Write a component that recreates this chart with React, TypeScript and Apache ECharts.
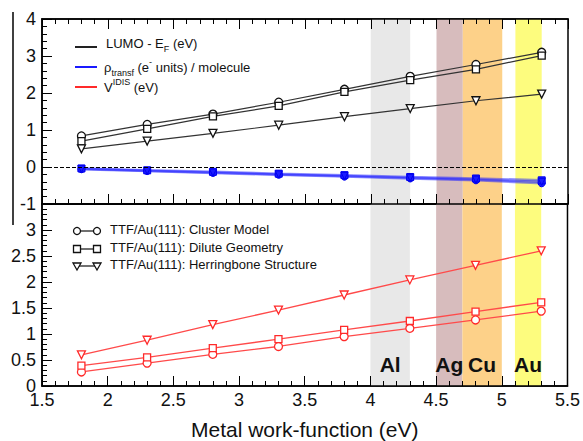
import React, { useEffect, useRef } from 'react';
import * as echarts from 'echarts';

const xValues = [1.8, 2.3, 2.8, 3.3, 3.8, 4.3, 4.8, 5.3];

// Top panel: LUMO - E_F (eV)
const lumoCluster = [0.84, 1.15, 1.43, 1.75, 2.1, 2.45, 2.77, 3.1];
const lumoDilute = [0.7, 1.03, 1.37, 1.65, 2.03, 2.35, 2.64, 3.01];
const lumoHerring = [0.49, 0.7, 0.91, 1.13, 1.36, 1.58, 1.79, 1.97];

// Top panel: rho_transf (e- units) / molecule
const rhoCluster = [-0.06, -0.11, -0.16, -0.21, -0.26, -0.31, -0.36, -0.44];
const rhoDilute = [-0.04, -0.09, -0.13, -0.18, -0.22, -0.27, -0.31, -0.36];
const rhoHerring = [-0.05, -0.1, -0.15, -0.2, -0.24, -0.29, -0.34, -0.4];

// Bottom panel: V IDIS (eV)
const vCluster = [0.27, 0.44, 0.61, 0.76, 0.95, 1.11, 1.27, 1.44];
const vDilute = [0.39, 0.55, 0.73, 0.9, 1.08, 1.25, 1.43, 1.61];
const vHerring = [0.6, 0.88, 1.18, 1.46, 1.75, 2.04, 2.32, 2.6];

const bandNames = ['Al', 'Ag', 'Cu', 'Au'];
const bandFrom = [4.0, 4.5, 4.7, 5.1];
const bandTo = [4.3, 4.7, 5.0, 5.3];
const bandColors = ['#e8e8e8', '#d7bcbd', '#fdd189', '#fdfc7e'];

const topTicks = [-1, 0, 1, 2, 3, 4];
const bottomTicks = [0, 0.5, 1, 1.5, 2, 2.5, 3];

const FONT = 'Liberation Sans, Arial, sans-serif';

const pairs = (ys: number[]) => xValues.map((x, i) => [x, ys[i]]);

export default function App() {
  const ref = useRef<HTMLDivElement>(null);
  useEffect(() => {
    document.body.style.margin = '0';
    const chart = echarts.init(ref.current!, null, { renderer: 'svg' });

    const bandArea = (withLabel: boolean) => ({
      silent: true,
      data: bandNames.map((n, i) => [
        { name: n, xAxis: bandFrom[i], itemStyle: { color: bandColors[i] } },
        { xAxis: bandTo[i] },
      ]),
      label: {
        show: withLabel,
        position: 'insideBottom',
        distance: 11,
        fontSize: 21,
        fontWeight: 'bold',
        color: '#111',
        fontFamily: FONT,
      },
    });

    const xBase = {
      type: 'value',
      min: 1.5,
      max: 5.5,
      interval: 0.5,
      z: 5,
      splitLine: { show: false },
      axisLine: { show: true, onZero: false, lineStyle: { color: '#000', width: 1.5 } },
      axisTick: { show: true, inside: true, length: 10, lineStyle: { color: '#000' } },
      minorTick: { show: true, splitNumber: 5, length: 5, lineStyle: { color: '#000' } },
    };

    const yBase = {
      type: 'value',
      z: 5,
      splitLine: { show: false },
      axisLine: { show: true, onZero: false, lineStyle: { color: '#000', width: 1.5 } },
      axisTick: { show: true, inside: true, length: 10, lineStyle: { color: '#000' } },
      minorTick: { show: true, splitNumber: 5, length: 5, lineStyle: { color: '#000' } },
      axisLabel: { fontSize: 18, color: '#111', fontFamily: FONT, margin: 6 },
    };

    const blackStyle = (symbol: string, ys: number[], extra: any = {}) => ({
      type: 'line',
      xAxisIndex: 0,
      yAxisIndex: 0,
      data: pairs(ys),
      symbol,
      symbolSize: symbol === 'rect' ? 7 : 8,
      symbolRotate: symbol === 'triangle' ? 180 : 0,
      lineStyle: { color: '#333', width: 1.2 },
      itemStyle: { color: '#fff', borderColor: '#111', borderWidth: 1.3 },
      z: 4,
      ...extra,
    });

    const blueStyle = (symbol: string, ys: number[]) => ({
      type: 'line',
      xAxisIndex: 0,
      yAxisIndex: 0,
      data: pairs(ys),
      symbol,
      symbolSize: 7,
      symbolRotate: symbol === 'triangle' ? 180 : 0,
      lineStyle: { color: 'rgba(40,40,255,0.5)', width: 2.5 },
      itemStyle: { color: '#1a1aff', borderColor: '#0000ee', borderWidth: 1 },
      z: 3,
    });

    const redStyle = (symbol: string, ys: number[], extra: any = {}) => ({
      type: 'line',
      xAxisIndex: 2,
      yAxisIndex: 1,
      data: pairs(ys),
      symbol,
      symbolSize: symbol === 'rect' ? 7 : 8,
      symbolRotate: symbol === 'triangle' ? 180 : 0,
      lineStyle: { color: '#ff4a4a', width: 1.3 },
      itemStyle: { color: '#fff', borderColor: '#ff2a2a', borderWidth: 1.3 },
      z: 4,
      ...extra,
    });

    const legendTextStyle = (text: string, y: number, x: number, size: number) => ({
      type: 'text',
      left: x,
      top: y - 10,
      style: {
        text,
        fontSize: size,
        fontFamily: FONT,
        fill: '#111',
        rich: {
          b: { fontSize: size, lineHeight: 20, fontFamily: FONT, fill: '#111' },
          sub: { fontSize: 9, lineHeight: 9, verticalAlign: 'bottom', fontFamily: FONT, fill: '#111' },
          sup: { fontSize: 9, lineHeight: 9, verticalAlign: 'top', fontFamily: FONT, fill: '#111' },
        },
      },
    });

    const bottomLegendRows = [
      { y: 231, label: 'TTF/Au(111): Cluster Model', kind: 'circle' },
      { y: 249, label: 'TTF/Au(111): Dilute Geometry', kind: 'rect' },
      { y: 266, label: 'TTF/Au(111): Herringbone Structure', kind: 'tri' },
    ];

    const marker = (kind: string, cx: number, cy: number) => {
      const st = { fill: '#fff', stroke: '#111', lineWidth: 1.3 };
      if (kind === 'circle') return { type: 'circle', shape: { cx, cy, r: 3.5 }, style: st };
      if (kind === 'rect') return { type: 'rect', shape: { x: cx - 3.5, y: cy - 3.5, width: 7, height: 7 }, style: st };
      return {
        type: 'polygon',
        shape: { points: [[cx - 4, cy - 3], [cx + 4, cy - 3], [cx, cy + 4]] },
        style: st,
      };
    };

    const graphics: any[] = [
      { type: 'line', shape: { x1: 13, y1: 12, x2: 13, y2: 225 }, style: { stroke: '#000', lineWidth: 1.5 } },
      // top legend
      { type: 'line', shape: { x1: 75, y1: 47, x2: 97, y2: 47 }, style: { stroke: '#222', lineWidth: 2 } },
      { type: 'line', shape: { x1: 75, y1: 67, x2: 97, y2: 67 }, style: { stroke: '#1a1aff', lineWidth: 2 } },
      { type: 'line', shape: { x1: 75, y1: 87, x2: 97, y2: 87 }, style: { stroke: '#ff2a2a', lineWidth: 2 } },
      legendTextStyle('{b|LUMO - E}{sub|F}{b| (eV)}', 47, 106, 13),
      legendTextStyle('{b|ρ}{sub|transf}{b| (e}{sup|-}{b| units) / molecule}', 67, 104, 13),
      legendTextStyle('{b|V}{sup|IDIS}{b| (eV)}', 87, 104, 13),
    ];
    bottomLegendRows.forEach((r) => {
      graphics.push({ type: 'line', shape: { x1: 77, y1: r.y, x2: 97, y2: r.y }, style: { stroke: '#222', lineWidth: 1.3 } });
      graphics.push(marker(r.kind, 77, r.y));
      graphics.push(marker(r.kind, 97, r.y));
      graphics.push({
        type: 'text',
        left: 110,
        top: r.y - 8,
        style: { text: r.label, fontSize: 13, fontFamily: FONT, fill: '#111' },
      });
    });

    const option: any = {
      animation: false,
      grid: [
        { left: 42, right: 15, top: 19, height: 185, show: true, borderColor: '#000', borderWidth: 1.5, backgroundColor: 'transparent' },
        { left: 42, right: 15, top: 204, height: 185, show: true, borderColor: '#000', borderWidth: 1.5, backgroundColor: 'transparent' },
      ],
      xAxis: [
        { ...xBase, gridIndex: 0, position: 'bottom', axisLabel: { show: false } },
        { ...xBase, gridIndex: 0, position: 'top', axisLabel: { show: false } },
        {
          ...xBase,
          gridIndex: 1,
          position: 'bottom',
          axisLabel: { show: true, fontSize: 18, color: '#111', fontFamily: FONT, margin: 5, formatter: (v: number) => String(v) },
          name: 'Metal work-function (eV)',
          nameLocation: 'middle',
          nameGap: 33,
          nameTextStyle: { fontSize: 21, color: '#111', fontFamily: FONT },
        },
      ],
      yAxis: [
        {
          ...yBase,
          gridIndex: 0,
          min: topTicks[0],
          max: topTicks[topTicks.length - 1],
          interval: 1,
        },
        {
          ...yBase,
          gridIndex: 1,
          min: 0,
          max: 3.5,
          interval: 0.5,
          axisLabel: {
            ...yBase.axisLabel,
            formatter: (v: number) => (bottomTicks.includes(v) ? String(v) : ''),
          },
        },
      ],
      series: [
        blackStyle('circle', lumoCluster, {
          markArea: bandArea(false),
          markLine: {
            silent: true,
            symbol: ['none', 'none'],
            label: { show: false },
            lineStyle: { color: '#000', type: 'dashed', width: 1 },
            data: [{ yAxis: 0 }],
          },
        }),
        blackStyle('rect', lumoDilute),
        blackStyle('triangle', lumoHerring),
        blueStyle('circle', rhoCluster),
        blueStyle('rect', rhoDilute),
        blueStyle('triangle', rhoHerring),
        redStyle('circle', vCluster, { markArea: bandArea(true) }),
        redStyle('rect', vDilute),
        redStyle('triangle', vHerring),
      ],
      graphic: graphics,
    };

    chart.setOption(option);
    return () => chart.dispose();
  }, []);
  return <div ref={ref} style={{ width: 583, height: 441 }} />;
}
